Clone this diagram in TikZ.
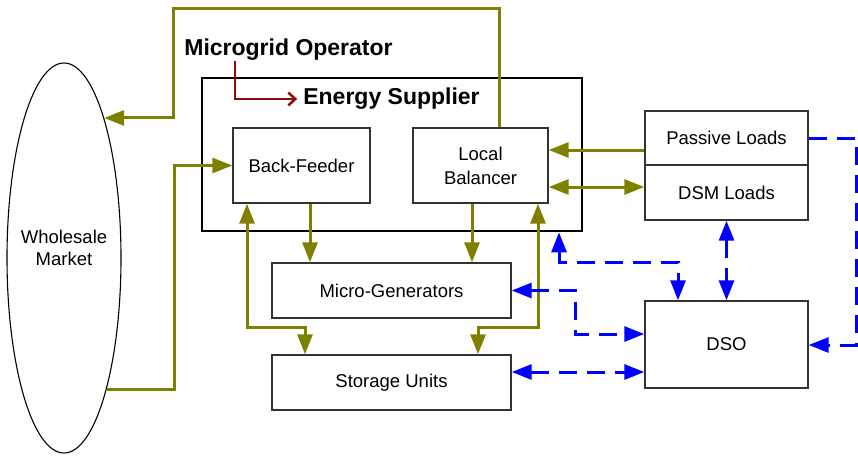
\documentclass[tikz,border=0pt]{standalone}
\usepackage{fontspec}
\setmainfont{Liberation Sans}
\usetikzlibrary{arrows.meta,shapes.geometric,calc}
\definecolor{mgolive}{RGB}{128,128,0}
\definecolor{mgblue}{RGB}{0,0,255}
\definecolor{mgred}{RGB}{140,10,10}
\definecolor{mgbox}{RGB}{50,50,50}
\begin{document}
\begin{tikzpicture}[x=1pt,y=-1pt,
  box/.style={draw=mgbox, line width=1.4pt, inner sep=0pt, align=center,
    font=\fontsize{18.5}{24}\selectfont},
  title/.style={inner sep=0pt, font=\fontsize{23}{27}\selectfont\bfseries},
  ol/.style={draw=mgolive, line width=3pt},
  oarr/.style={ol, -{Triangle[length=20pt,width=15pt]}},
  odarr/.style={ol, {Triangle[length=20pt,width=15pt]}-{Triangle[length=20pt,width=15pt]}},
  bl/.style={draw=mgblue, line width=3pt, dash pattern=on 18pt off 10pt},
  barr/.style={bl, -{Triangle[length=20pt,width=15pt]}},
  bdarr/.style={bl, {Triangle[length=20pt,width=15pt]}-{Triangle[length=20pt,width=15pt]}},
  rarr/.style={draw=mgred, line width=2.5pt, -{Straight Barb[length=7pt,width=13pt]}}
]
\useasboundingbox (0,0) rectangle (858,456);

% Wholesale market
\node[ellipse, draw=black, line width=1.1pt, minimum width=114pt, minimum height=390pt, inner sep=0pt] (wm) at (64,258) {};
\node[inner sep=0pt, align=center, font=\fontsize{18.5}{22}\selectfont] (wmlabel) at (64,248) {Wholesale\\Market};

% Titles
\node[title] (mo) at (288.5,50) {Microgrid Operator};
\node[draw=black, line width=2.7pt, minimum width=380pt, minimum height=153pt, inner sep=0pt] (es) at (392,154.5) {};
\node[title] (est) at (391.5,99) {Energy Supplier};

% Boxes
\node[box, minimum width=137pt, minimum height=75pt] (bf) at (301.5,165.5) {Back-Feeder};
\node[box, minimum width=135pt, minimum height=75pt] (lb) at (480.5,165.5) {Local\\Balancer};
\node[box, minimum width=163pt, minimum height=54pt] (pl) at (726.5,138) {Passive Loads};
\node[box, minimum width=163pt, minimum height=55pt] (dsm) at (726.5,192.5) {DSM Loads};
\node[box, minimum width=239pt, minimum height=55pt] (mg) at (391.5,290.5) {Micro-Generators};
\node[box, minimum width=239pt, minimum height=55pt] (su) at (391.5,382.5) {Storage Units};
\node[box, minimum width=163pt, minimum height=87pt] (dso) at (726.5,344.5) {DSO};

% bend points
\coordinate (c1) at (173,8);
\coordinate (c2) at (174,165.5);
\coordinate (k1) at (305,327);
\coordinate (k2) at (478,327);
\coordinate (k3) at (559,262);
\coordinate (k4) at (678,262);
\coordinate (k5) at (575,334);
\coordinate (k6) at (856,345);

% red arrow
\draw[rarr] (mo.south -| 235,0) |- ([xshift=-6pt]est.west);

% olive connectors
\draw[oarr] ([xshift=18.5pt]lb.north) |- (c1) |- (wm.74);
\draw[oarr] (wm.-72) -| (c2) -- (bf.west);
\draw[oarr] ([xshift=8.5pt]bf.south) -- ([xshift=8.5pt]bf.south |- mg.north);
\draw[odarr] ([xshift=-54.5pt]bf.south) |- (k1) -- (k1 |- su.north);
\draw[oarr] ([xshift=-8.5pt]lb.south) -- ([xshift=-8.5pt]lb.south |- mg.north);
\draw[odarr] ([xshift=57.5pt]lb.south) |- (k2) -- (k2 |- su.north);
\draw[oarr] ([yshift=-12pt]pl.west) -- ([yshift=-12pt]pl.west -| lb.east);
\draw[odarr] ([yshift=5.5pt]dsm.west) -- ([yshift=5.5pt]dsm.west -| lb.east);

% blue dashed connectors
\draw[bdarr] (es.south -| k3) -- (k3) -- (k4) -- (k4 |- dso.north);
\draw[bdarr] (dsm.south) -- (dso.north);
\draw[bdarr] (mg.east) -| (k5) -- (k5 -| dso.west);
\draw[bdarr] ([yshift=10.5pt]su.east) -- ([yshift=10.5pt]su.east -| dso.west);
\draw[barr] (pl.east) -| (k6) -- (k6 -| dso.east);
\end{tikzpicture}
\end{document}
